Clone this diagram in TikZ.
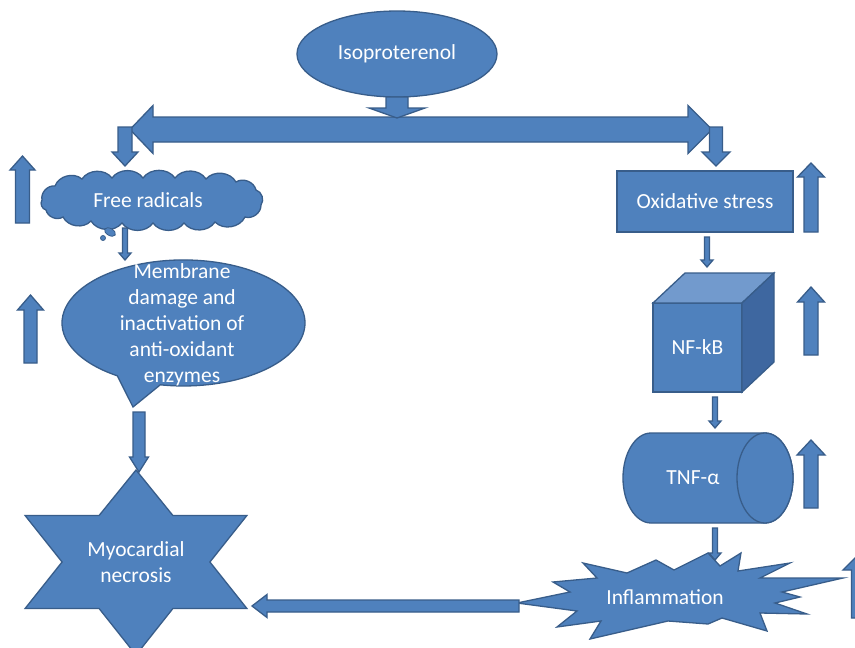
\documentclass[tikz,border=0pt]{standalone}
\usepackage{fontspec}
\setmainfont{Carlito}
\usetikzlibrary{shapes.geometric,calc}
\definecolor{bfill}{HTML}{4F81BD}
\definecolor{bline}{HTML}{385D8A}
\definecolor{btop}{HTML}{729ACD}
\definecolor{bside}{HTML}{3E67A0}
\tikzset{
  shp/.style={fill=bfill, draw=bline, line width=1.3pt, line join=miter, outer sep=0pt},
  lbl/.style={text=white, font=\fontsize{21.5}{26}\selectfont, align=center},
  puff/.style={bend left=55},
}
\newcommand\blkarrow[5]{%
  \coordinate (ba-hb) at ($(#2)!#5!(#1)$);
  \draw[shp] ($(#1)!#3!90:(#2)$) -- ($(ba-hb)!#3!90:(#2)$) -- ($(ba-hb)!#4!90:(#2)$)
    -- (#2) -- ($(ba-hb)!#4!-90:(#2)$) -- ($(ba-hb)!#3!-90:(#2)$) -- ($(#1)!#3!-90:(#2)$) -- cycle;
}
\begin{document}
\begin{tikzpicture}[x=1pt,y=-1pt]
\clip (0,0) rectangle (855,648);
\fill[white] (0,0) rectangle (855,648);

% Isoproterenol
\node[shp, ellipse, minimum width=200pt, minimum height=86pt, lbl] (iso) at (397,54) {Isoproterenol};

% double arrow
\draw[shp] (130,129.5) -- (153,105.5) -- (153,117) -- (688,117) -- (688,105.5) -- (712,129.5)
  -- (688,153.5) -- (688,142) -- (153,142) -- (153,153.5) -- cycle;
\coordinate (dtop) at (397,118);
\blkarrow{iso.south}{dtop}{11pt}{28pt}{10pt}

% Free radicals cloud
\draw[shp] (42,200) to[puff] (55,186) to[puff] (82,179) to[puff] (112,178) to[puff] (143,178)
  to[puff] (175,178) to[puff] (206,179) to[puff] (236,182) to[puff] (256,190) to[puff] (261,205)
  to[puff] (245,217) to[puff] (215,222) to[puff] (184,223) to[puff] (153,223) to[puff] (122,223)
  to[puff] (91,221) to[puff] (63,217) to[puff] (46,210) to[puff] (42,200) -- cycle;
\node[lbl] (fr) at (148,200) {Free radicals};
\draw[shp, line width=0.8pt, rotate around={-30:(110,232)}] (110,232) ellipse[x radius=6, y radius=3.5];
\draw[shp, line width=0.8pt] (103,238) circle[radius=2.5];

% Oxidative stress
\node[shp, rectangle, minimum width=176pt, minimum height=61pt, lbl] (ox) at (705,201.5) {Oxidative stress};

% branch arrows
\coordinate (lsrc) at (125,127);
\coordinate (ldst) at (125,166);
\blkarrow{lsrc}{ldst}{7pt}{13pt}{14pt}
\coordinate (rsrc) at (716,127);
\coordinate (rdst) at (716,166);
\blkarrow{rsrc}{rdst}{6.5pt}{14pt}{14pt}

% NF-kB cube
\node[shp, minimum width=89pt, minimum height=89pt, lbl] (nf) at (697.5,347.5) {NF-kB};
\draw[shp, fill=btop] (nf.north west) -- ++(32,-30) -- ++(89,0) -- (nf.north east) -- cycle;
\draw[shp, fill=bside] (nf.north east) -- ++(32,-30) -- ++(0,89) -- (nf.south east) -- cycle;

% TNF cylinder
\draw[shp] (651,433) -- (765,433) arc[start angle=-90, end angle=90, x radius=28, y radius=45]
  -- (651,523) arc[start angle=90, end angle=270, x radius=28, y radius=45] -- cycle;
\draw[shp] (765,478) ellipse[x radius=28, y radius=45];
\node[lbl] (tnf) at (693,478) {TNF-α};

% Inflammation explosion
\draw[shp] (517,603) -- (570,592) -- (553,582) -- (597,578) -- (583,563) -- (627,573) -- (656,560)
  -- (674,570) -- (708,553) -- (720,566) -- (741,553) -- (738,571) -- (790,563) -- (760,578)
  -- (843,578) -- (782,592) -- (800,597) -- (775,603) -- (807,614) -- (760,613) -- (767,631)
  -- (722,618) -- (708,624) -- (668,621) -- (590,639) -- (601,621) -- (557,627) -- (577,611) -- cycle;
\node[lbl] (infl) at (665,597) {Inflammation};

% Callout
\draw[shp] (160.3,384.8) arc[start angle=101, end angle=-237, x radius=121.5, y radius=63] -- (133,407) -- cycle;
\node[lbl] (mem) at (182,325) {Membrane\\damage and\\inactivation of\\anti-oxidant\\enzymes};

% Myocardial necrosis star
\draw[shp] (136,470) -- (172.9,515.5) -- (246.9,515.5) -- (209.9,562) -- (246.9,608.5) -- (172.9,608.5)
  -- (136,655) -- (99.1,608.5) -- (25.1,608.5) -- (62.1,562) -- (25.1,515.5) -- (99.1,515.5) -- cycle;
\node[lbl] (myo) at (136,562) {Myocardial\\necrosis};

% thin connectors
\coordinate (c1a) at (707,237); \coordinate (c1b) at (707,267);
\blkarrow{c1a}{c1b}{2.5pt}{6pt}{7pt}
\coordinate (c2a) at (715,397); \coordinate (c2b) at (715,428);
\blkarrow{c2a}{c2b}{2.5pt}{6pt}{7pt}
\coordinate (c3a) at (715,528); \coordinate (c3b) at (715,560);
\blkarrow{c3a}{c3b}{2.5pt}{6pt}{7pt}
\coordinate (c4a) at (125,228); \coordinate (c4b) at (125,260);
\blkarrow{c4a}{c4b}{2.5pt}{6pt}{7pt}

% callout -> star
\coordinate (c5a) at (139,412); \coordinate (c5b) at (139,472);
\blkarrow{c5a}{c5b}{6pt}{9.5pt}{15pt}
% inflammation -> star
\coordinate (c6a) at (519,606); \coordinate (c6b) at (252,606);
\blkarrow{c6a}{c6b}{6pt}{11.5pt}{15pt}

% increase arrows
\coordinate (u1a) at (22.5,223); \coordinate (u1b) at (22.5,156);
\blkarrow{u1a}{u1b}{7pt}{12.5pt}{14pt}
\coordinate (u2a) at (30.5,363); \coordinate (u2b) at (30.5,295);
\blkarrow{u2a}{u2b}{6.5pt}{13pt}{15pt}
\coordinate (u3a) at (811,232); \coordinate (u3b) at (811,163);
\blkarrow{u3a}{u3b}{7pt}{13.5pt}{14pt}
\coordinate (u4a) at (811,355); \coordinate (u4b) at (811,287);
\blkarrow{u4a}{u4b}{7pt}{13.5pt}{15pt}
\coordinate (u5a) at (811,508); \coordinate (u5b) at (811,440);
\blkarrow{u5a}{u5b}{7pt}{14pt}{15pt}
\coordinate (u6a) at (858,618); \coordinate (u6b) at (858,555);
\blkarrow{u6a}{u6b}{6.5pt}{15pt}{15pt}
\end{tikzpicture}
\end{document}
